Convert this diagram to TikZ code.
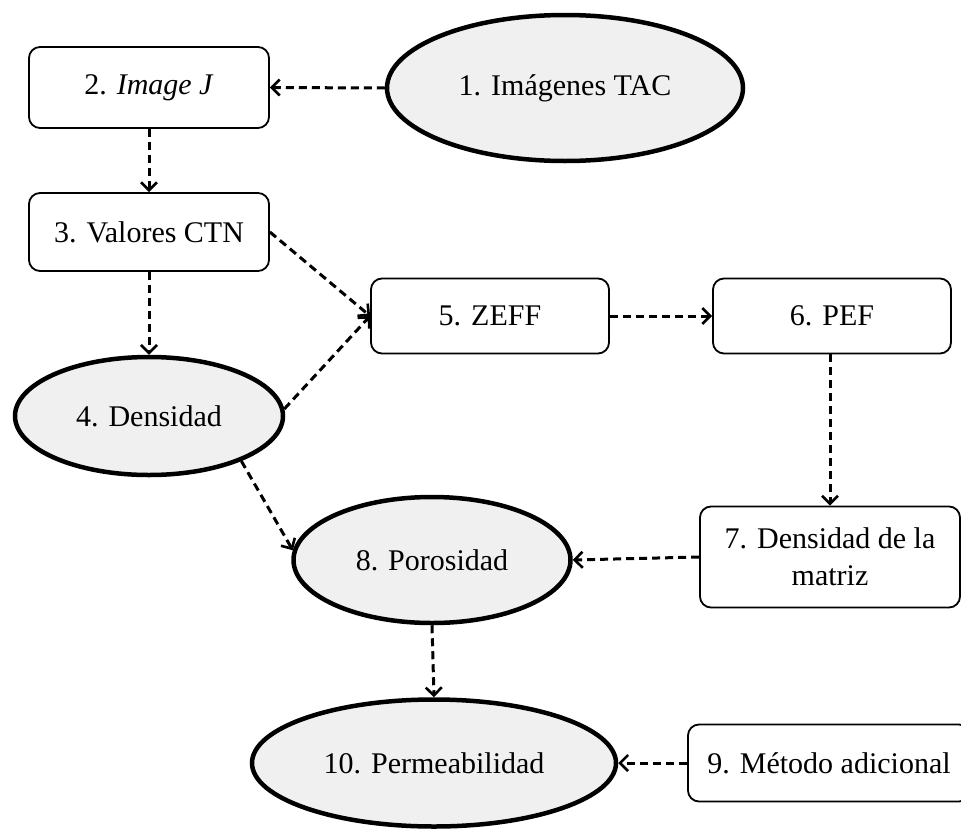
\documentclass[tikz,border=0pt]{standalone}
\usepackage{fontspec}
\setmainfont{Liberation Serif}
\usetikzlibrary{shapes.geometric,arrows.meta}
\begin{document}
\begin{tikzpicture}[x=1pt,y=-1pt,
  font=\fontsize{30}{37}\selectfont,
  rbox/.style={draw, rounded corners=11pt, line width=1.8pt, inner sep=0pt, align=center},
  oval/.style={ellipse, draw, line width=4.5pt, fill=black!6, inner sep=0pt},
  conn/.style={dash pattern=on 8pt off 5pt, line width=3pt,
    -{Straight Barb[length=8pt,width=16pt,line width=2.6pt]}}]
\useasboundingbox (0,0) rectangle (961,830);
\clip (0,0) rectangle (961,830);

\node[oval, minimum width=356pt, minimum height=146pt] (n1) at (565,88) {1. Imágenes TAC};
\node[rbox, minimum width=240pt, minimum height=81pt] (n2) at (149,87.5) {2. \textit{Image J}};
\node[rbox, minimum width=240pt, minimum height=78pt] (n3) at (149,232) {3. Valores CTN};
\node[oval, minimum width=268pt, minimum height=118pt] (n4) at (149,416) {4. Densidad};
\node[rbox, minimum width=238pt, minimum height=75pt] (n5) at (490,316) {5. ZEFF};
\node[rbox, minimum width=238pt, minimum height=75pt] (n6) at (832,316) {6. PEF};
\node[rbox, minimum width=260pt, minimum height=101pt] (n7) at (830,557) {7. Densidad de la\\matriz};
\node[oval, minimum width=277pt, minimum height=126pt] (n8) at (432,560) {8. Porosidad};
\node[oval, minimum width=364pt, minimum height=127pt] (n10) at (434,763) {10. Permeabilidad};
\node[rbox, minimum width=282pt, minimum height=77pt] (n9) at (829,763) {9. Método adicional};

\draw[conn] (n1.west) -- (n2.east);
\draw[conn] (n2.south) -- (n3.north);
\draw[conn] (n3.south) -- (n4.north);
\draw[conn] (n3.east) -- (n5.west);
\draw[conn] (n4.3) -- (n5.west);
\draw[conn] (n5.east) -- (n6.west);
\draw[conn] (n6.south -| n7.north) -- (n7.north);
\draw[conn] (n4.-26) -- (n8.176);
\draw[conn] (n7.west) -- (n8.east);
\draw[conn] (n8.south) -- (n10.north);
\draw[conn] (n9.west) -- (n10.east);
\end{tikzpicture}
\end{document}
